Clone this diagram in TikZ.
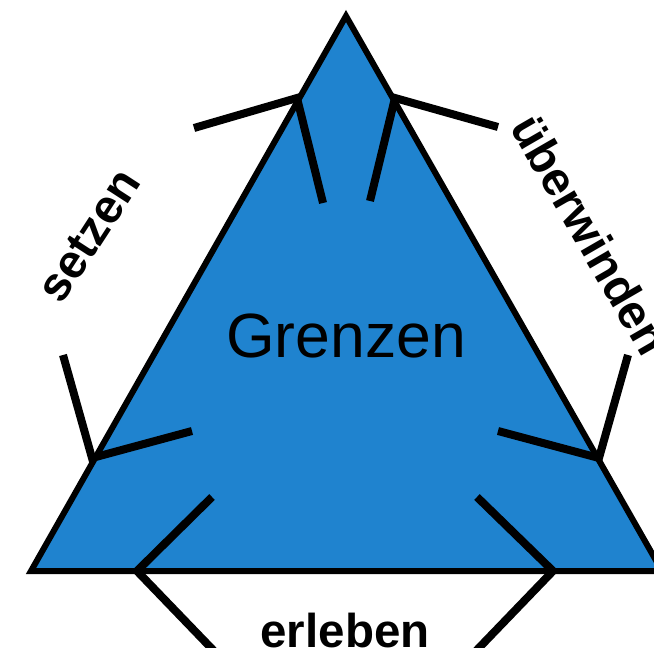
\documentclass[tikz,border=0pt]{standalone}
\usepackage{fontspec}
\setmainfont{Liberation Sans}
\definecolor{triblue}{RGB}{31,131,207}
\begin{document}
\begin{tikzpicture}[x=1pt,y=-1pt,
  tri/.style={fill=triblue,draw=black,line width=6pt,line join=miter},
  fork/.style={draw=black,line width=8pt,line join=miter,line cap=butt},
  lbl/.style={font=\bfseries\fontsize{47.5}{50}\selectfont,inner sep=0pt,anchor=base},
  title/.style={font=\fontsize{62.5}{66}\selectfont,inner sep=0pt,anchor=base}]
\useasboundingbox (0,0) rectangle (654,648);
\begin{scope}
\clip (0,0) rectangle (654,648);
% triangle corners
\coordinate (apex) at (346,16);
\coordinate (bl) at (31,571);
\coordinate (br) at (662,571);
\draw[tri] (apex) -- (bl) -- (br) -- cycle;
% fork vertices
\coordinate (ftl) at (297,98);
\coordinate (ftr) at (395,98);
\coordinate (fl) at (92,458);
\coordinate (fr) at (599,458);
\coordinate (fbl) at (137,571);
\coordinate (fbr) at (553,571);
% fork ends
\coordinate (ftla) at (194,128);
\coordinate (ftlb) at (323,203);
\coordinate (ftra) at (498,127);
\coordinate (ftrb) at (370,201);
\coordinate (fla) at (63,355);
\coordinate (flb) at (192,431);
\coordinate (fra) at (628,355);
\coordinate (frb) at (498,431);
\coordinate (fbla) at (212,497);
\coordinate (fblb) at (215,652);
\coordinate (fbra) at (477,497);
\coordinate (fbrb) at (475,652);
\draw[fork] (ftla) -- (ftl) -- (ftlb);
\draw[fork] (ftra) -- (ftr) -- (ftrb);
\draw[fork] (fla) -- (fl) -- (flb);
\draw[fork] (fra) -- (fr) -- (frb);
\draw[fork] (fbla) -- (fbl) -- (fblb);
\draw[fork] (fbra) -- (fbr) -- (fbrb);
% labels
\node[title] (grenzen) at (346,357) {Grenzen};
\node[lbl] (erleben) at (345,647) {erleben};
\node[lbl,rotate=57] (setzen) at (102,244) {setzen};
\node[lbl,rotate=-60] (ueberwinden) at (576,243) {überwinden};
\end{scope}
\end{tikzpicture}
\end{document}
